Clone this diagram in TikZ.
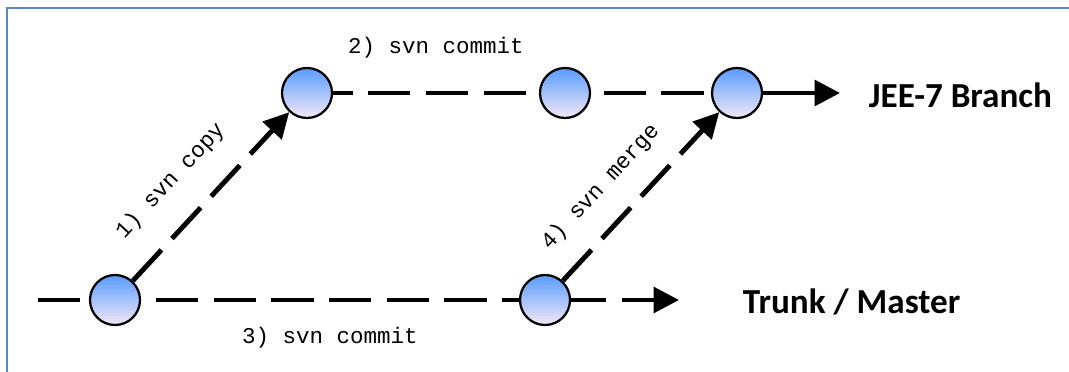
\documentclass[tikz,border=0pt]{standalone}
\usepackage{fontspec}
\setmonofont{Liberation Mono}
\newfontfamily\branchfont{Carlito}
\usepackage{tikz}
\usetikzlibrary{arrows.meta}

\definecolor{frameblue}{RGB}{91,135,197}
\definecolor{nodetop}{RGB}{88,156,255}
\definecolor{nodebottom}{RGB}{244,232,246}

\tikzset{
    cmdlabel/.style={font=\ttfamily\fontsize{16}{19}\selectfont},
    branchlabel/.style={font=\branchfont\bfseries\fontsize{25}{30}\selectfont,anchor=west}
}

\begin{document}
\begin{tikzpicture}[x=0.025cm,y=-0.025cm]
    \useasboundingbox (0,0) rectangle (1069,372);
    \draw[frameblue,line width=1.5pt] (7,372) -- (7,8) -- (1069,8);
    \begin{scope}[every node/.style={circle,draw,line width=1.6pt,minimum size=1.25cm,top color=nodetop,bottom color=nodebottom}]
    \node (a) at (115,300) {};
    \node (b) at (545,300) {};
    \node (c) at (307,93) {};
    \node (d) at (565,93) {};
    \node (e) at (737,93) {};
    \end{scope}
    \coordinate (s) at (38,300);
    \coordinate (t) at (679,300);
    \coordinate (u) at (840,93);
    \begin{scope}[every edge/.style={draw=black,line width=3.5pt,dash pattern=on 30pt off 11pt},
                  tip/.style={-{Triangle[length=18pt,width=18pt]}}]
    \path (s) edge (a);
    \path (a) edge[dash phase=30.3pt] node[cmdlabel,below=14pt] {3) svn commit} (b);
    \path (b) edge[tip,dash phase=5pt] (t);
    \path (a) edge[tip] node[cmdlabel,pos=0.43,sloped,above=16pt] {1) svn copy} (c);
    \path (c) edge[dash phase=16pt] node[cmdlabel,above=20pt] {2) svn commit} (d);
    \path (d) edge[dash phase=32pt] (e);
    \path (e) edge[tip,solid] (u);
    \path (b) edge[tip] node[cmdlabel,pos=0.41,sloped,above=13pt] {4) svn merge} (e);
    \end{scope}
    \node[branchlabel] (jee) at (864,95) {JEE-7 Branch};
    \node[branchlabel] (trunk) at (738,302) {Trunk / Master};
\end{tikzpicture}
\end{document}
